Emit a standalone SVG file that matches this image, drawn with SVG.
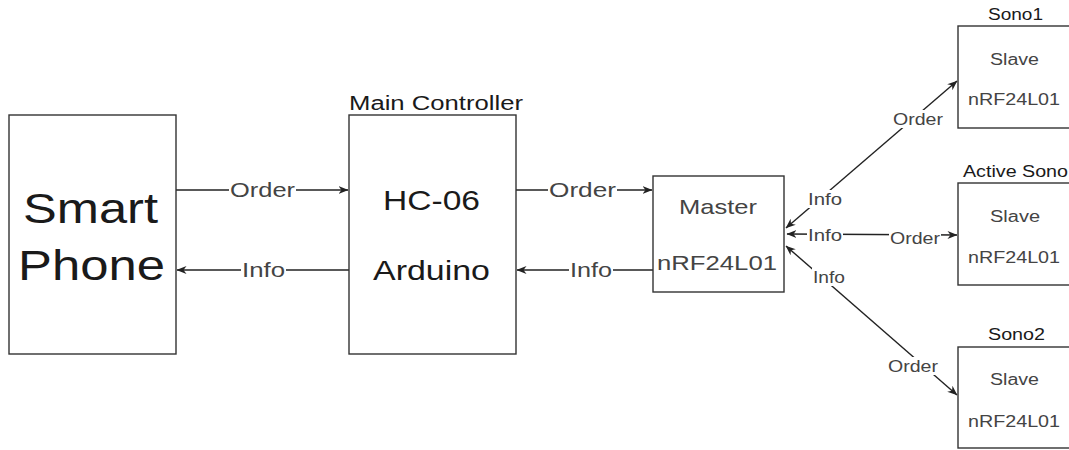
<svg xmlns="http://www.w3.org/2000/svg" width="1069" height="450" viewBox="0 0 1069 450">
<style>
.box{fill:#fff;stroke:#333;stroke-width:1.4}
text{font-family:"Liberation Sans",Arial,sans-serif}
.big{fill:#1a1a1a}
.lbl{fill:#444}
.bg{fill:#fff}
.sm{fill:#444}
.edge{stroke:#222;stroke-width:1.4;fill:none}
</style>
<defs>
<marker id="ah" viewBox="0 0 10 10" refX="9.5" refY="5" markerWidth="10" markerHeight="10" markerUnits="userSpaceOnUse" orient="auto-start-reverse">
<path d="M0,1 L10,5 L0,9 L3,5 z" fill="#222"/>
</marker>
</defs>
<rect width="1069" height="450" fill="#fff"/>

<g id="connectors">
<line class="edge" x1="176" y1="190" x2="348" y2="190" marker-end="url(#ah)"/>
<line class="edge" x1="349" y1="270" x2="177" y2="270" marker-end="url(#ah)"/>
<line class="edge" x1="516" y1="190" x2="652" y2="190" marker-end="url(#ah)"/>
<line class="edge" x1="653" y1="270" x2="517" y2="270" marker-end="url(#ah)"/>
<line class="edge" x1="786" y1="228" x2="957" y2="81" marker-start="url(#ah)" marker-end="url(#ah)"/>
<line class="edge" x1="787" y1="234" x2="957" y2="235" marker-start="url(#ah)" marker-end="url(#ah)"/>
<line class="edge" x1="786" y1="246" x2="957" y2="395" marker-start="url(#ah)" marker-end="url(#ah)"/>
<rect class="bg" x="229" y="180" width="67" height="20"/>
<rect class="bg" x="241" y="260" width="45" height="20"/>
<rect class="bg" x="548" y="180" width="69" height="20"/>
<rect class="bg" x="569" y="260" width="44" height="20"/>
<rect class="bg" x="807" y="190" width="36" height="18"/>
<rect class="bg" x="807" y="226" width="36" height="18"/>
<rect class="bg" x="812" y="268" width="34" height="18"/>
<rect class="bg" x="892" y="110" width="52" height="18"/>
<rect class="bg" x="889" y="229" width="52" height="18"/>
<rect class="bg" x="887" y="357" width="52" height="18"/>
<text class="lbl" x="230" y="197" font-size="20" textLength="65" lengthAdjust="spacingAndGlyphs">Order</text>
<text class="lbl" x="242" y="277" font-size="20" textLength="43" lengthAdjust="spacingAndGlyphs">Info</text>
<text class="lbl" x="549" y="197" font-size="20" textLength="67" lengthAdjust="spacingAndGlyphs">Order</text>
<text class="lbl" x="570" y="277" font-size="20" textLength="42" lengthAdjust="spacingAndGlyphs">Info</text>
<text class="lbl" x="808" y="205" font-size="17" textLength="34" lengthAdjust="spacingAndGlyphs">Info</text>
<text class="lbl" x="808" y="241" font-size="17" textLength="34" lengthAdjust="spacingAndGlyphs">Info</text>
<text class="lbl" x="813" y="283" font-size="17" textLength="32" lengthAdjust="spacingAndGlyphs">Info</text>
<text class="lbl" x="893" y="125" font-size="17" textLength="50" lengthAdjust="spacingAndGlyphs">Order</text>
<text class="lbl" x="890" y="244" font-size="17" textLength="50" lengthAdjust="spacingAndGlyphs">Order</text>
<text class="lbl" x="888" y="372" font-size="17" textLength="50" lengthAdjust="spacingAndGlyphs">Order</text>
</g>

<g id="smartphone">
<rect class="box" x="9" y="115" width="167" height="239"/>
<text class="big" x="23" y="223" font-size="42" textLength="135" lengthAdjust="spacingAndGlyphs">Smart</text>
<text class="big" x="18" y="280" font-size="42" textLength="147" lengthAdjust="spacingAndGlyphs">Phone</text>
</g>

<g id="maincontroller">
<rect class="box" x="349" y="115" width="167" height="239"/>
<text class="big" x="349" y="110" font-size="20" textLength="174" lengthAdjust="spacingAndGlyphs">Main Controller</text>
<text class="big" x="383" y="210" font-size="28" textLength="97" lengthAdjust="spacingAndGlyphs">HC-06</text>
<text class="big" x="373" y="280" font-size="28" textLength="117" lengthAdjust="spacingAndGlyphs">Arduino</text>
</g>

<g id="master">
<rect class="box" x="653" y="176" width="131" height="116"/>
<text class="sm" x="679" y="214" font-size="21" textLength="78" lengthAdjust="spacingAndGlyphs">Master</text>
<text class="sm" x="657" y="270" font-size="21" textLength="120" lengthAdjust="spacingAndGlyphs">nRF24L01</text>
</g>

<g id="sono1">
<rect class="box" x="958" y="26" width="120" height="102"/>
<text class="big" x="988" y="20" font-size="16" textLength="55" lengthAdjust="spacingAndGlyphs">Sono1</text>
<text class="sm" x="990" y="65" font-size="16" textLength="49" lengthAdjust="spacingAndGlyphs">Slave</text>
<text class="sm" x="968" y="105" font-size="16" textLength="92" lengthAdjust="spacingAndGlyphs">nRF24L01</text>
</g>

<g id="activesono">
<rect class="box" x="958" y="183" width="120" height="102"/>
<text class="big" x="963" y="177" font-size="16" textLength="105" lengthAdjust="spacingAndGlyphs">Active Sono</text>
<text class="sm" x="990" y="222" font-size="16" textLength="50" lengthAdjust="spacingAndGlyphs">Slave</text>
<text class="sm" x="968" y="263" font-size="16" textLength="92" lengthAdjust="spacingAndGlyphs">nRF24L01</text>
</g>

<g id="sono2">
<rect class="box" x="958" y="347" width="120" height="101"/>
<text class="big" x="988" y="340" font-size="16" textLength="57" lengthAdjust="spacingAndGlyphs">Sono2</text>
<text class="sm" x="990" y="385" font-size="16" textLength="49" lengthAdjust="spacingAndGlyphs">Slave</text>
<text class="sm" x="968" y="427" font-size="16" textLength="92" lengthAdjust="spacingAndGlyphs">nRF24L01</text>
</g>
</svg>
